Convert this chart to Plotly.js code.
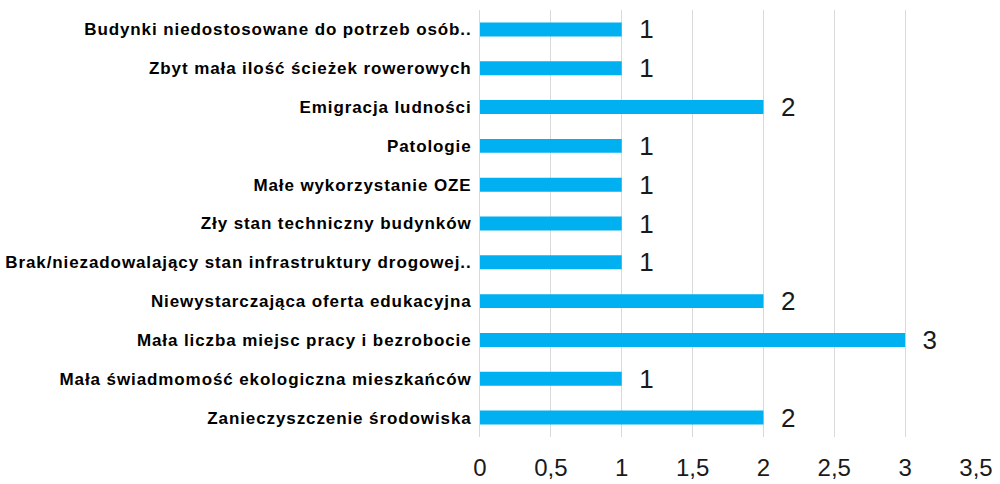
<!DOCTYPE html>
<html>
<head>
<meta charset="utf-8">
<script src="https://cdn.plot.ly/plotly-3.0.1.min.js"></script>
<style>
html,body{margin:0;padding:0;background:#fff;}
#chart{width:1000px;height:484px;}
#chart .ytick text{letter-spacing:0.9px;}
</style>
</head>
<body>
<div id="chart"></div>
<script>
const categories = [
  "Budynki niedostosowane do potrzeb osób..",
  "Zbyt mała ilość ścieżek rowerowych",
  "Emigracja ludności",
  "Patologie",
  "Małe wykorzystanie OZE",
  "Zły stan techniczny budynków",
  "Brak/niezadowalający stan infrastruktury drogowej..",
  "Niewystarczająca oferta edukacyjna",
  "Mała liczba miejsc pracy i bezrobocie",
  "Mała świadmomość ekologiczna mieszkańców",
  "Zanieczyszczenie środowiska"
];
const values = [1, 1, 2, 1, 1, 1, 1, 2, 3, 1, 2];
const tickVals = [0, 0.5, 1, 1.5, 2, 2.5, 3, 3.5];
const tickText = ["0", "0,5", "1", "1,5", "2", "2,5", "3", "3,5"];

const trace = {
  type: 'bar',
  orientation: 'h',
  x: values,
  y: categories,
  marker: {color: '#00B0F0'},
  text: values.map(v => '  ' + v),
  textposition: 'outside',
  constraintext: 'none',
  cliponaxis: false,
  textfont: {family: 'Liberation Sans, Arial, sans-serif', size: 26, color: '#1a1a1a'},
  hoverinfo: 'none'
};

const layout = {
  width: 1000,
  height: 484,
  margin: {l: 480, r: 24, t: 10, b: 47},
  paper_bgcolor: '#ffffff',
  plot_bgcolor: '#ffffff',
  showlegend: false,
  bargap: 0.64,
  font: {family: 'Liberation Sans, Arial, sans-serif'},
  xaxis: {
    range: [0, 3.5],
    tickvals: tickVals,
    ticktext: tickText,
    showgrid: true,
    gridcolor: '#d9d9d9',
    gridwidth: 1,
    zeroline: false,
    showline: false,
    ticks: 'outside',
    ticklen: 9,
    tickcolor: 'rgba(0,0,0,0)',
    tickfont: {size: 24, color: '#1a1a1a'}
  },
  yaxis: {
    autorange: 'reversed',
    type: 'category',
    showgrid: false,
    zeroline: false,
    showline: true,
    linecolor: '#d9d9d9',
    linewidth: 1,
    ticks: 'outside',
    ticklen: 4,
    tickcolor: 'rgba(0,0,0,0)',
    tickfont: {size: 17, color: '#000000', weight: 'bold'}
  }
};

Plotly.newPlot('chart', [trace], layout, {displayModeBar: false, staticPlot: true});
</script>
</body>
</html>
